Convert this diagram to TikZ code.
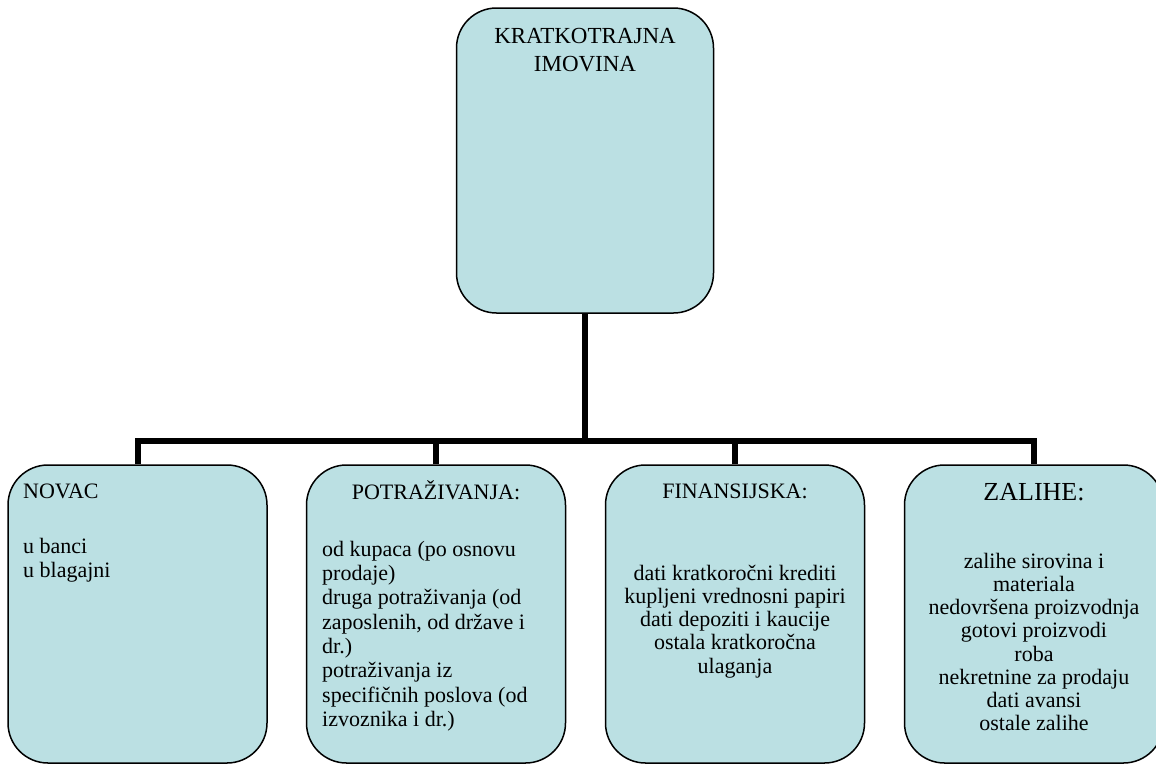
\documentclass[tikz,border=0pt]{standalone}
\usepackage{fontspec}
\setmainfont{Liberation Serif}
\newcommand\myfs[2]{\fontsize{#1}{#2}\selectfont}
\newcommand\firstln{\rule{0pt}{21pt}}
\definecolor{boxfill}{RGB}{187,224,227}
\tikzset{
  box/.style={draw=black, line width=1.5pt, fill=boxfill, rounded corners=40pt, inner sep=0pt},
  bottombox/.style={box, minimum width=259pt, minimum height=298pt},
  conn/.style={draw=black, line width=6pt, line join=miter},
  head/.style={inner sep=0pt, font=\myfs{22}{24}},
  body/.style={inner sep=0pt, anchor=north, align=center}
}
\begin{document}
\begin{tikzpicture}[x=1pt,y=-1pt]
\useasboundingbox (0,0) rectangle (1156,766);
\clip (0,0) rectangle (1156,766);

% boxes
\node[box, minimum width=257pt, minimum height=305pt] (top) at (585,160.5) {};
\node[bottombox] (novac) at (137.5,614) {};
\node[bottombox] (potr) at (436,614) {};
\node[bottombox] (fin) at (735,614) {};
\node[bottombox] (zal) at (1034,614) {};

% connectors
\coordinate (bus) at (585,441);
\draw[conn] (top.south) -- (top.south |- bus);
\draw[conn] (novac.north) -- (novac.north |- bus) -- (zal.north |- bus) -- (zal.north);
\draw[conn] (potr.north) -- (potr.north |- bus);
\draw[conn] (fin.north) -- (fin.north |- bus);

% texts
\node[body, font=\myfs{23}{28.5}] (ttop) at (585,22) {\firstln KRATKOTRAJNA\\IMOVINA};

\node[head, anchor=base west] (hnovac) at (23,498) {NOVAC};
\node[body, anchor=north west, align=left, font=\myfs{22}{24.5}] (bnovac) at (23,532) {\firstln u banci\\u blagajni};

\node[head, anchor=base] (hpotr) at (436,499) {POTRAŽIVANJA:};
\node[body, anchor=north west, align=left, font=\myfs{22}{24.3}] (bpotr) at (322,535) {\firstln od kupaca (po osnovu\\prodaje)\\druga potraživanja (od\\zaposlenih, od države i\\dr.)\\potraživanja iz\\specifičnih poslova (od\\izvoznika i dr.)};

\node[head, anchor=base] (hfin) at (735,498) {FINANSIJSKA:};
\node[body, font=\myfs{22}{23.2}] (bfin) at (735,559) {\firstln dati kratkoročni krediti\\kupljeni vrednosni papiri\\dati depoziti i kaucije\\ostala kratkoročna\\ulaganja};

\node[head, anchor=base, font=\myfs{26}{28}] (hzal) at (1034,500) {ZALIHE:};
\node[body, font=\myfs{22}{23.2}] (bzal) at (1034,547) {\firstln zalihe sirovina i\\materiala\\nedovršena proizvodnja\\gotovi proizvodi\\roba\\nekretnine za prodaju\\dati avansi\\ostale zalihe};
\end{tikzpicture}
\end{document}
